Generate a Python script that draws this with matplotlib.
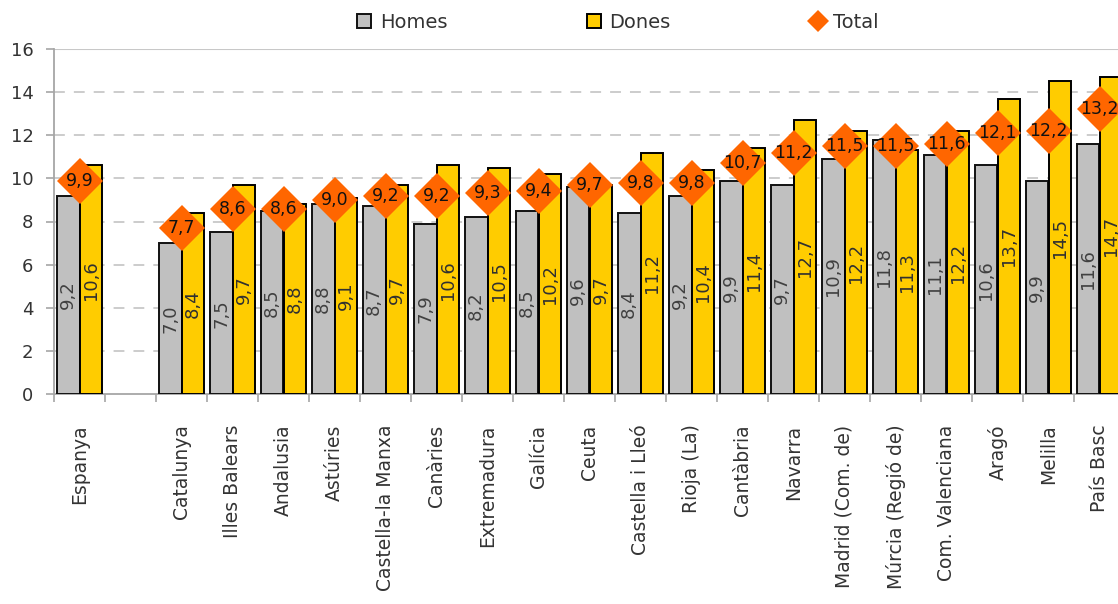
import matplotlib
matplotlib.use("Agg")
import matplotlib.pyplot as plt
from matplotlib.lines import Line2D
from matplotlib.patches import Patch
import numpy as np

plt.rcParams['font.family'] = ['DejaVu Sans']

categories = ["Espanya", "", "Catalunya", "Illes Balears", "Andalusia", "Astúries",
              "Castella-la Manxa", "Canàries", "Extremadura", "Galícia", "Ceuta",
              "Castella i Lleó", "Rioja (La)", "Cantàbria", "Navarra",
              "Madrid (Com. de)", "Múrcia (Regió de)", "Com. Valenciana", "Aragó",
              "Melilla", "País Basc"]
homes = [9.2, None, 7.0, 7.5, 8.5, 8.8, 8.7, 7.9, 8.2, 8.5, 9.6, 8.4, 9.2, 9.9,
         9.7, 10.9, 11.8, 11.1, 10.6, 9.9, 11.6]
dones = [10.6, None, 8.4, 9.7, 8.8, 9.1, 9.7, 10.6, 10.5, 10.2, 9.7, 11.2, 10.4,
         11.4, 12.7, 12.2, 11.3, 12.2, 13.7, 14.5, 14.7]
total = [9.9, None, 7.7, 8.6, 8.6, 9.0, 9.2, 9.2, 9.3, 9.4, 9.7, 9.8, 9.8, 10.7,
         11.2, 11.5, 11.5, 11.6, 12.1, 12.2, 13.2]
yticks = [0, 2, 4, 6, 8, 10, 12, 14, 16]

GRAY = "#C0C0C0"
YELLOW = "#FFCC00"
ORANGE = "#FF6600"
TXT = "#333333"
FS = 13

fig = plt.figure(figsize=(11.18, 6.04), dpi=100)
ax = fig.add_axes([54/1118, (604-394)/604, (1125-54)/1118, (394-49)/604])

x = np.arange(len(categories))
w = 0.45
idx = [i for i in range(len(categories)) if homes[i] is not None]
xi = np.array(idx)
hv = np.array([homes[i] for i in idx])
dv = np.array([dones[i] for i in idx])
tv = np.array([total[i] for i in idx])

ax.bar(xi - w/2, hv, width=w, color=GRAY, edgecolor="#111111", linewidth=1.4, zorder=3)
ax.bar(xi + w/2, dv, width=w, color=YELLOW, edgecolor="#000000", linewidth=1.4, zorder=3)

for xx, v in zip(xi, hv):
    ax.text(xx - w/2, v/2, f"{v:.1f}".replace(".", ","), rotation=90, ha="center",
            va="center", fontsize=FS, color="#404040", zorder=4)
for xx, v in zip(xi, dv):
    ax.text(xx + w/2, v/2, f"{v:.1f}".replace(".", ","), rotation=90, ha="center",
            va="center", fontsize=FS, color="#303030", zorder=4)

ax.plot(xi, tv, linestyle="none", marker="D", markersize=23.5, color=ORANGE,
        markeredgewidth=0, zorder=5)
for xx, v in zip(xi, tv):
    ax.text(xx, v, f"{v:.1f}".replace(".", ","), ha="center", va="center",
            fontsize=12.5, color="#111111", zorder=6)

ax.set_xlim(-0.5, len(categories) - 0.5)
ax.set_ylim(0, 16)
ax.set_yticks(yticks)
ax.set_yticklabels([str(t) for t in yticks], fontsize=FS, color=TXT)
for t in yticks[1:-1]:
    ax.axhline(t, color="#C8C8C8", linewidth=1.3, linestyle=(0, (6, 5)), zorder=1)
ax.axhline(16, color="#C8C8C8", linewidth=1.5, zorder=1)

ax.set_xticks(x)
ax.set_xticklabels(categories, rotation=90, fontsize=13.5, color=TXT, va="top", ha="center")
ax.tick_params(axis="x", which="major", length=0, pad=22)
ax.set_xticks(np.arange(-0.5, len(categories) + 0.5, 1), minor=True)
ax.tick_params(axis="x", which="minor", length=5.8, width=1.2, color="#A6A6A6")
ax.tick_params(axis="y", length=5.8, width=1.2, color="#A6A6A6", pad=9)

for s in ["top", "right"]:
    ax.spines[s].set_visible(False)
for s in ["left", "bottom"]:
    ax.spines[s].set_color("#A6A6A6")
    ax.spines[s].set_linewidth(1.3)

handles = [Patch(facecolor=GRAY, edgecolor="#111111", linewidth=1.4),
           Patch(facecolor=YELLOW, edgecolor="#000000", linewidth=1.4),
           Line2D([], [], linestyle="none", marker="D", markersize=11, color=ORANGE,
                  markeredgewidth=0)]
leg = fig.legend(handles, ["Homes", "Dones", "Total"], loc="center",
                 bbox_to_anchor=(618/1118, 1 - 22/604), ncol=3, frameon=False,
                 fontsize=14, handlelength=0.7, handleheight=0.7, handletextpad=0.45,
                 columnspacing=7.2)
for t in leg.get_texts():
    t.set_color(TXT)

fig.savefig("out.png", dpi=100)
